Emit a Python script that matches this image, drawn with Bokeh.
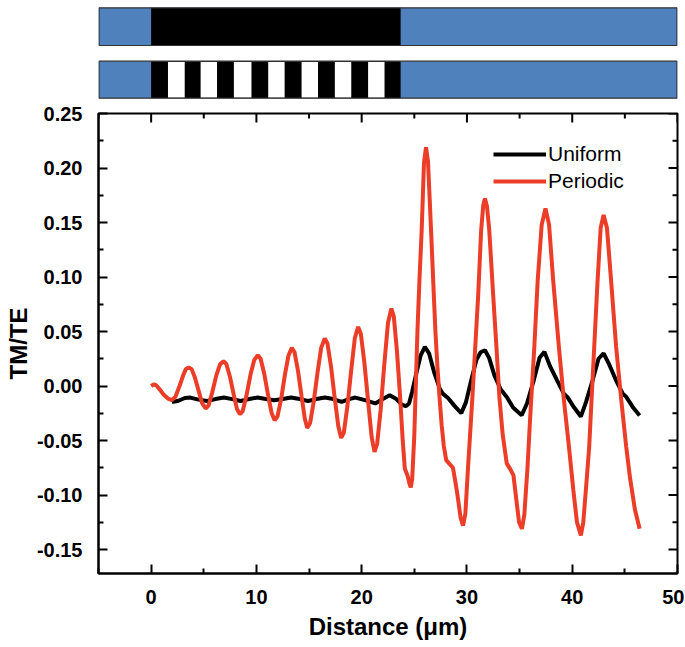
import numpy as np
from bokeh.plotting import figure
from bokeh.models import Range1d, FixedTicker, PrintfTickFormatter, Legend, LegendItem
from bokeh.layouts import column
from bokeh.embed import file_html
from bokeh.resources import INLINE

# ---------------- data ----------------
x_ticks = [0, 10, 20, 30, 40, 50]
x_minor = [-5, 5, 15, 25, 35, 45]
y_ticks = [-0.15, -0.10, -0.05, 0.00, 0.05, 0.10, 0.15, 0.20, 0.25]
y_minor = [-0.175, -0.125, -0.075, -0.025, 0.025, 0.075, 0.125, 0.175, 0.225]

device_start = 0.0
device_end = 23.7
stripe_starts = [1.60, 4.70, 7.86, 11.12, 14.29, 17.45, 20.61]
stripe_ends = [3.19, 6.26, 9.53, 12.68, 15.85, 19.01, 22.17]

uniform_x = [1.98, 2.6, 3.2, 3.72, 4.5, 5.32, 6.1, 6.91, 7.7, 8.5, 9.3, 10.1, 10.9,
             11.7, 12.5, 13.3, 14.1, 14.9, 15.7, 16.5, 17.3, 18.1, 18.8, 19.4, 20.3,
             21.3, 22.0, 22.66, 23.3, 23.8, 24.19, 24.5, 24.8, 25.2, 25.6, 26.0, 26.4,
             26.9, 27.4, 27.7, 28.2, 28.8, 29.46, 29.9, 30.4, 30.9, 31.3, 31.71, 32.1,
             32.6, 33.2, 33.78, 34.4, 35.2, 35.7, 36.34, 36.9, 37.36, 37.9, 38.57, 39.2,
             39.53, 40.2, 40.82, 41.3, 41.93, 42.5, 42.98, 43.5, 44.17, 44.8, 45.13,
             45.8, 46.4]
uniform_y = [-0.0146, -0.0135, -0.011, -0.0106, -0.0125, -0.0137, -0.012, -0.0106,
             -0.012, -0.0137, -0.012, -0.0106, -0.012, -0.013, -0.012, -0.0106, -0.012,
             -0.0137, -0.012, -0.0106, -0.012, -0.0146, -0.012, -0.0106, -0.013, -0.016,
             -0.012, -0.0084, -0.012, -0.017, -0.0185, -0.016, -0.005, 0.012, 0.028,
             0.0359, 0.030, 0.012, -0.002, -0.007, -0.011, -0.018, -0.025, -0.015, 0.005,
             0.024, 0.031, 0.0328, 0.026, 0.010, -0.003, -0.010, -0.020, -0.0268, -0.016,
             0.005, 0.026, 0.0313, 0.018, 0.005, -0.007, -0.010, -0.020, -0.028, -0.015,
             0.005, 0.025, 0.030, 0.020, 0.005, -0.007, -0.010, -0.020, -0.027]

periodic_x = [0.0, 0.25, 0.5, 0.8, 1.2, 1.6, 1.98, 2.3, 2.7, 3.05, 3.3, 3.58, 3.85, 4.15,
              4.5, 4.85, 5.18, 5.45, 5.8, 6.2, 6.55, 6.87, 7.15, 7.5, 7.85, 8.15, 8.44,
              8.7, 9.05, 9.45, 9.8, 10.13, 10.4, 10.75, 11.1, 11.45, 11.73, 12.0, 12.35,
              12.7, 13.05, 13.36, 13.62, 13.95, 14.3, 14.6, 14.83, 15.1, 15.45, 15.8,
              16.15, 16.49, 16.75, 17.1, 17.45, 17.78, 18.05, 18.3, 18.65, 19.0, 19.35,
              19.66, 19.92, 20.25, 20.6, 20.95, 21.22, 21.47, 21.8, 22.15, 22.5, 22.82,
              23.05, 23.35, 23.65, 23.9, 24.1, 24.35, 24.55, 24.67, 24.8, 25.0, 25.3,
              25.5, 25.7, 25.92, 26.11, 26.3, 26.59, 26.8, 27.0, 27.2, 27.39, 27.6, 27.8,
              28.03, 28.3, 28.67, 28.9, 29.1, 29.4, 29.63, 29.85, 30.1, 30.52, 30.8,
              31.06, 31.35, 31.55, 31.71, 31.9, 32.12, 32.5, 32.8, 33.08, 33.4, 33.78,
              34.1, 34.42, 34.7, 34.95, 35.22, 35.45, 35.75, 36.0, 36.4, 36.72, 37.1,
              37.46, 37.8, 38.19, 38.73, 39.2, 39.69, 40.1, 40.45, 40.82, 41.05, 41.3,
              41.61, 42.09, 42.41, 42.7, 42.98, 43.3, 43.69, 44.17, 44.65, 45.13, 45.5,
              45.95, 46.4]
periodic_y = [0.0, 0.0015, 0.0005, -0.003, -0.008, -0.0115, -0.013, -0.010, 0.000, 0.010,
              0.0155, 0.017, 0.0155, 0.008, -0.004, -0.016, -0.0206, -0.018, -0.006,
              0.010, 0.020, 0.0228, 0.020, 0.008, -0.008, -0.021, -0.0259, -0.023,
              -0.009, 0.011, 0.024, 0.0283, 0.025, 0.011, -0.008, -0.025, -0.0314,
              -0.028, -0.012, 0.010, 0.028, 0.035, 0.031, 0.014, -0.010, -0.030, -0.0384,
              -0.034, -0.014, 0.012, 0.035, 0.0436, 0.039, 0.017, -0.012, -0.037,
              -0.0476, -0.043, -0.018, 0.014, 0.044, 0.0542, 0.048, 0.022, -0.013,
              -0.047, -0.0605, -0.053, -0.022, 0.020, 0.058, 0.0711, 0.064, 0.032,
              -0.010, -0.050, -0.076, -0.082, -0.090, -0.093, -0.085, -0.045, 0.051,
              0.100, 0.143, 0.205, 0.219, 0.206, 0.143, 0.095, 0.051, 0.017, -0.010,
              -0.036, -0.055, -0.068, -0.071, -0.075, -0.088, -0.10, -0.121, -0.128,
              -0.117, -0.075, -0.010, 0.038, 0.082, 0.143, 0.166, 0.172, 0.165, 0.143,
              0.082, 0.036, -0.010, -0.045, -0.071, -0.076, -0.082, -0.105, -0.125,
              -0.131, -0.118, -0.075, -0.030, 0.036, 0.097, 0.148, 0.163, 0.148, 0.097,
              0.036, -0.012, -0.056, -0.095, -0.125, -0.137, -0.125, -0.095, -0.056,
              0.036, 0.097, 0.145, 0.157, 0.145, 0.097, 0.036, -0.012, -0.056, -0.085,
              -0.113, -0.131]

# ---------------- style ----------------
BLUE = "#4F81BD"
RED = "#EB3D27"
FONT = "Liberation Sans"
W = 684
LB, RB = 98, 7

x_range = Range1d(-5, 50)
y_range = Range1d(-0.172, 0.25)

# ---------------- schematic bars ----------------
bars = figure(width=W, height=100, x_range=x_range, y_range=Range1d(100, 0),
              output_backend="svg", toolbar_location=None,
              x_axis_location=None, y_axis_location=None,
              min_border_left=LB, min_border_right=RB,
              min_border_top=0, min_border_bottom=0)
bars.grid.visible = False
bars.outline_line_color = None
bars.background_fill_color = "white"

b1_top, b1_bot = 7.3, 45.0
b2_top, b2_bot = 60.7, 97.7
for t, b in [(b1_top, b1_bot), (b2_top, b2_bot)]:
    bars.quad(left=[x_range.start], right=[x_range.end], top=[t], bottom=[b],
              fill_color=BLUE, line_color=None)
    bars.quad(left=[device_start], right=[device_end], top=[t], bottom=[b],
              fill_color="black", line_color=None)
n_s = len(stripe_starts)
bars.quad(left=stripe_starts, right=stripe_ends, top=[b2_top + 0.8] * n_s,
          bottom=[b2_bot - 0.5] * n_s, fill_color="white", line_color=None)
for t, b in [(b1_top, b1_bot), (b2_top, b2_bot)]:
    bars.quad(left=[x_range.start + 0.05], right=[x_range.end - 0.05], top=[t], bottom=[b],
              fill_color=None, line_color="#333333", line_width=1.2)

# ---------------- main plot ----------------
p = figure(width=W, height=546, x_range=x_range, y_range=y_range,
           output_backend="svg", toolbar_location=None,
           min_border_left=LB, min_border_right=RB,
           min_border_top=13, min_border_bottom=73)
p.grid.visible = False
p.outline_line_color = "black"
p.outline_line_width = 2

r_u = p.line(uniform_x, uniform_y, line_color="black", line_width=4)
r_p = p.line(periodic_x, periodic_y, line_color=RED, line_width=4)

xt = FixedTicker(ticks=x_ticks, minor_ticks=x_minor)
yt = FixedTicker(ticks=y_ticks, minor_ticks=y_minor)
p.xaxis.ticker = xt
p.yaxis.ticker = yt
p.yaxis.formatter = PrintfTickFormatter(format="%.2f")

for ax in p.axis:
    ax.axis_line_width = 2
    ax.axis_line_color = "black"
    ax.major_tick_in = 9
    ax.major_tick_out = 0
    ax.minor_tick_in = 5
    ax.minor_tick_out = 0
    ax.major_tick_line_width = 2
    ax.minor_tick_line_width = 2
    ax.major_label_text_font = FONT
    ax.major_label_text_font_style = "bold"
    ax.major_label_text_font_size = "20px"
    ax.major_label_text_color = "black"
    ax.axis_label_text_font = FONT
    ax.axis_label_text_font_style = "bold"
    ax.axis_label_text_font_size = "24px"
    ax.axis_label_text_color = "black"

xa = p.below[0]
ya = p.left[0]
xa.axis_label = "Distance (μm)"
ya.axis_label = "TM/TE"
xa.major_label_standoff = 16
xa.axis_label_standoff = 6
ya.major_label_standoff = 16
ya.axis_label_standoff = 2

# mirrored inward ticks on the top and right frame edges
tick_kw = dict(line_color="black", line_width=2, length_units="screen")
p.ray(x=x_ticks, y=[y_range.end] * len(x_ticks), length=9, angle=-np.pi / 2, **tick_kw)
p.ray(x=x_minor, y=[y_range.end] * len(x_minor), length=5, angle=-np.pi / 2, **tick_kw)
p.ray(x=[x_range.end] * len(y_ticks), y=y_ticks, length=9, angle=np.pi, **tick_kw)
p.ray(x=[x_range.end] * len(y_minor), y=y_minor, length=5, angle=np.pi, **tick_kw)

legend = Legend(items=[LegendItem(label="Uniform", renderers=[r_u]),
                       LegendItem(label="Periodic", renderers=[r_p])],
                location=(395, 380))
legend.label_text_font = FONT
legend.label_text_font_size = "21px"
legend.label_text_color = "black"
legend.glyph_width = 53
legend.glyph_height = 20
legend.label_standoff = 2
legend.spacing = 3
legend.padding = 0
legend.margin = 0
legend.border_line_color = None
legend.background_fill_alpha = 0
p.add_layout(legend)

layout = column(bars, p, spacing=0)
open("out.html", "w").write(file_html(layout, INLINE))
